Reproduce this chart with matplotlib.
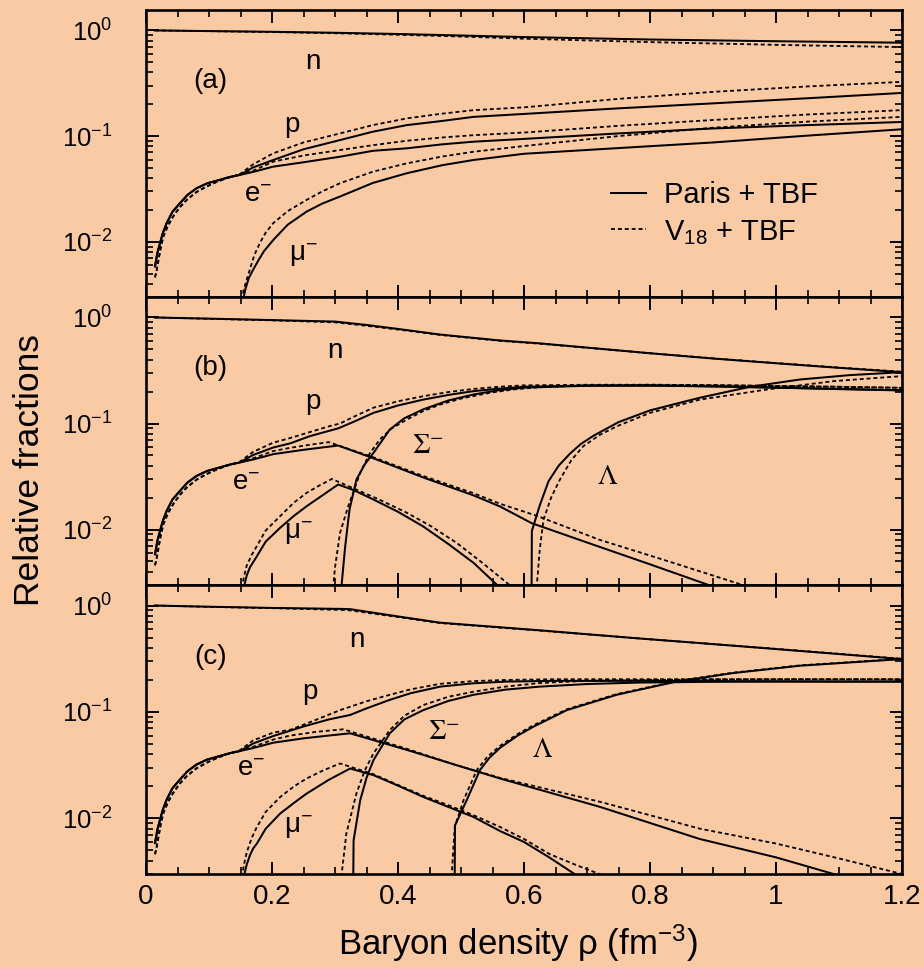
import matplotlib
matplotlib.use('Agg')
import matplotlib.pyplot as plt
from matplotlib.ticker import LogLocator, MultipleLocator, FixedLocator, FixedFormatter, NullFormatter

plt.rcParams['font.family'] = ['Liberation Sans', 'DejaVu Sans']
plt.rcParams['mathtext.fontset'] = 'custom'
plt.rcParams['mathtext.rm'] = 'Liberation Sans'
plt.rcParams['mathtext.it'] = 'Liberation Sans:italic'
plt.rcParams['mathtext.bf'] = 'Liberation Sans:bold'
plt.rcParams['mathtext.sf'] = 'Liberation Sans'

# ---------------- data ----------------
# common low-density part (p = e before muon onset)
low_x_paris = [0.0143, 0.018, 0.0222, 0.027, 0.0328, 0.042, 0.054, 0.066, 0.08, 0.097, 0.117, 0.133, 0.149]
low_y_paris = [0.00585, 0.0078, 0.0097, 0.0122, 0.015, 0.0192, 0.0232, 0.0278, 0.032, 0.0357, 0.0385, 0.041, 0.0429]
low_x_v18 = [0.0143, 0.017, 0.02, 0.0235, 0.0275, 0.035, 0.043, 0.053, 0.0646, 0.08, 0.096, 0.112, 0.128, 0.148]
low_y_v18 = [0.0046, 0.0054, 0.0068, 0.0089, 0.0112, 0.0143, 0.0173, 0.021, 0.0249, 0.0295, 0.0333, 0.0368, 0.040, 0.0432]

# ---- panel (a): n p e mu ----
a_n_x = [0.014, 0.1, 0.2, 0.3, 0.4, 0.5, 0.6, 0.8, 1.0, 1.2]
a_n_paris = [1.0, 0.985, 0.97, 0.95, 0.925, 0.895, 0.865, 0.82, 0.79, 0.765]
a_n_v18 = [1.0, 0.985, 0.965, 0.94, 0.91, 0.875, 0.835, 0.775, 0.73, 0.695]

a_hi_x = [0.17, 0.202, 0.25, 0.308, 0.36, 0.414, 0.47, 0.52, 0.6, 0.75, 0.9, 1.05, 1.2]
a_p_paris_hi = [0.0505, 0.0594, 0.075, 0.0917, 0.11, 0.127, 0.139, 0.152, 0.162, 0.183, 0.204, 0.228, 0.256]
a_e_paris_hi = [0.0458, 0.0514, 0.0565, 0.0638, 0.0725, 0.0766, 0.0835, 0.0885, 0.094, 0.106, 0.118, 0.127, 0.136]
a_p_v18_hi = [0.054, 0.0687, 0.087, 0.106, 0.127, 0.147, 0.163, 0.176, 0.187, 0.225, 0.262, 0.295, 0.326]
a_e_v18_hi = [0.047, 0.0573, 0.0655, 0.0738, 0.082, 0.0903, 0.097, 0.102, 0.108, 0.125, 0.142, 0.160, 0.176]

a_mu_paris_x = [0.154, 0.158, 0.163, 0.17, 0.178, 0.187, 0.202, 0.225, 0.255, 0.28, 0.308, 0.36, 0.414,
                0.47, 0.52, 0.6, 0.75, 0.9, 1.05, 1.2]
a_mu_paris_y = [0.0028, 0.0036, 0.0045, 0.00544, 0.0066, 0.0081, 0.0104, 0.0145, 0.0193, 0.023, 0.0268, 0.036,
                0.0445, 0.053, 0.0594, 0.068, 0.077, 0.087, 0.101, 0.116]
a_mu_v18_x = [0.152, 0.155, 0.16, 0.165, 0.172, 0.181, 0.19, 0.202, 0.225, 0.255, 0.28, 0.308, 0.36, 0.414,
              0.47, 0.52, 0.6, 0.75, 0.9, 1.05, 1.2]
a_mu_v18_y = [0.0028, 0.0035, 0.0044, 0.0055, 0.0075, 0.0098, 0.0122, 0.015, 0.0195, 0.0249, 0.030, 0.0358,
              0.046, 0.0552, 0.064, 0.0711, 0.0805, 0.100, 0.120, 0.137, 0.152]

# ---- panel (b): with hyperons ----
b_n_x = [0.014, 0.1, 0.2, 0.3, 0.35, 0.4, 0.467, 0.562, 0.625, 0.7, 0.8, 0.9, 1.0, 1.1, 1.2]
b_n_paris = [1.0, 0.975, 0.945, 0.915, 0.85, 0.78, 0.69, 0.607, 0.57, 0.52, 0.46, 0.41, 0.37, 0.335, 0.305]
b_n_v18 = [1.0, 0.972, 0.94, 0.9, 0.835, 0.77, 0.685, 0.602, 0.566, 0.518, 0.46, 0.412, 0.372, 0.337, 0.308]

b_p_paris_x = [0.17, 0.202, 0.229, 0.26, 0.305, 0.33, 0.361, 0.4, 0.44, 0.48, 0.52, 0.56, 0.6, 0.7, 0.8,
               0.9, 1.0, 1.1, 1.2]
b_p_paris_y = [0.0505, 0.0594, 0.065, 0.076, 0.09, 0.104, 0.126, 0.148, 0.168, 0.186, 0.202, 0.213, 0.222,
               0.228, 0.228, 0.224, 0.218, 0.212, 0.206]
b_p_v18_x = [0.17, 0.202, 0.229, 0.26, 0.29, 0.308, 0.33, 0.361, 0.4, 0.44, 0.48, 0.52, 0.56, 0.6, 0.7, 0.8,
             0.9, 1.0, 1.1, 1.2]
b_p_v18_y = [0.054, 0.066, 0.073, 0.083, 0.094, 0.1, 0.116, 0.141, 0.162, 0.181, 0.198, 0.212, 0.222, 0.229,
             0.232, 0.232, 0.23, 0.226, 0.222, 0.217]

b_e_paris_x = [0.17, 0.202, 0.25, 0.305, 0.361, 0.44, 0.52, 0.562, 0.612, 0.71, 0.8, 0.9]
b_e_paris_y = [0.0458, 0.0514, 0.0565, 0.062, 0.047, 0.031, 0.021, 0.0165, 0.0115, 0.0072, 0.0047, 0.0029]
b_e_v18_x = [0.17, 0.202, 0.229, 0.26, 0.29, 0.361, 0.44, 0.52, 0.562, 0.62, 0.72, 0.83, 0.955]
b_e_v18_y = [0.047, 0.055, 0.059, 0.063, 0.0667, 0.048, 0.032, 0.022, 0.0175, 0.0135, 0.008, 0.005, 0.0029]

b_mu_paris_x = [0.155, 0.16, 0.165, 0.176, 0.19, 0.213, 0.235, 0.255, 0.28, 0.305, 0.33, 0.361, 0.4, 0.44,
                0.48, 0.52, 0.56]
b_mu_paris_y = [0.0028, 0.0037, 0.0044, 0.0056, 0.0077, 0.0104, 0.0135, 0.0166, 0.021, 0.0266, 0.0235,
                0.0192, 0.0147, 0.0107, 0.0073, 0.00485, 0.0029]
b_mu_v18_x = [0.152, 0.156, 0.16, 0.168, 0.176, 0.19, 0.213, 0.235, 0.255, 0.275, 0.295, 0.334, 0.37, 0.414,
              0.453, 0.493, 0.535, 0.58]
b_mu_v18_y = [0.0028, 0.0037, 0.0046, 0.0058, 0.007, 0.0098, 0.0134, 0.018, 0.0222, 0.026, 0.030, 0.0238,
              0.0192, 0.0144, 0.0107, 0.0075, 0.0048, 0.0029]

b_sig_paris_x = [0.31, 0.316, 0.323, 0.334, 0.347, 0.361, 0.387, 0.41, 0.44, 0.48, 0.52, 0.56, 0.6, 0.7,
                 0.8, 0.9, 1.0, 1.1, 1.2]
b_sig_paris_y = [0.0028, 0.0068, 0.0154, 0.0296, 0.041, 0.0528, 0.0878, 0.112, 0.136, 0.165, 0.188, 0.206,
                 0.218, 0.227, 0.228, 0.224, 0.218, 0.211, 0.205]
b_sig_v18_x = [0.297, 0.300, 0.308, 0.321, 0.34, 0.355, 0.371, 0.39, 0.414, 0.44, 0.467, 0.5, 0.546, 0.585,
               0.625, 0.7, 0.8, 0.9, 1.0, 1.1, 1.2]
b_sig_v18_y = [0.0028, 0.0044, 0.0093, 0.0166, 0.0343, 0.052, 0.0706, 0.09, 0.109, 0.131, 0.151, 0.172,
               0.195, 0.21, 0.22, 0.229, 0.232, 0.23, 0.226, 0.222, 0.217]

b_lam_paris_x = [0.612, 0.6125, 0.625, 0.639, 0.655, 0.673, 0.69, 0.71, 0.75, 0.8, 0.879, 0.959, 1.038,
                 1.117, 1.2]
b_lam_paris_y = [0.0028, 0.0097, 0.0169, 0.0286, 0.04, 0.052, 0.064, 0.0765, 0.103, 0.133, 0.175, 0.222,
                 0.26, 0.286, 0.305]
b_lam_v18_x = [0.62, 0.625, 0.631, 0.643, 0.657, 0.675, 0.694, 0.72, 0.747, 0.8, 0.879, 0.985, 1.091, 1.2]
b_lam_v18_y = [0.0028, 0.0065, 0.0124, 0.02, 0.0296, 0.045, 0.061, 0.078, 0.094, 0.126, 0.168, 0.209,
               0.251, 0.28]

# ---- panel (c) ----
c_n_x = [0.014, 0.1, 0.2, 0.31, 0.324, 0.4, 0.467, 0.562, 0.625, 0.7, 0.784, 0.879, 1.0, 1.1, 1.2]
c_n_paris = [1.0, 0.975, 0.95, 0.93, 0.925, 0.79, 0.69, 0.625, 0.585, 0.538, 0.49, 0.444, 0.39, 0.35, 0.314]
c_n_v18 = [1.0, 0.972, 0.945, 0.91, 0.9, 0.78, 0.685, 0.62, 0.582, 0.536, 0.49, 0.444, 0.392, 0.352, 0.316]

c_p_paris_x = [0.17, 0.202, 0.25, 0.29, 0.324, 0.35, 0.387, 0.42, 0.467, 0.52, 0.573, 0.65, 0.8, 0.9, 1.0,
               1.1, 1.2]
c_p_paris_y = [0.0505, 0.0594, 0.073, 0.085, 0.0937, 0.108, 0.13, 0.15, 0.173, 0.186, 0.193, 0.196, 0.196,
               0.195, 0.194, 0.193, 0.193]
c_p_v18_x = [0.17, 0.202, 0.229, 0.26, 0.308, 0.35, 0.387, 0.42, 0.467, 0.52, 0.573, 0.65, 0.8, 0.9, 1.0,
             1.1, 1.2]
c_p_v18_y = [0.054, 0.064, 0.068, 0.08, 0.104, 0.126, 0.145, 0.163, 0.184, 0.195, 0.2, 0.203, 0.203, 0.203,
             0.203, 0.203, 0.203]

c_e_paris_x = [0.17, 0.202, 0.25, 0.29, 0.324, 0.414, 0.49, 0.562, 0.721, 0.879, 1.0, 1.1]
c_e_paris_y = [0.0458, 0.0514, 0.0565, 0.060, 0.063, 0.044, 0.032, 0.0237, 0.0128, 0.0064, 0.0043, 0.0029]
c_e_v18_x = [0.17, 0.202, 0.229, 0.27, 0.313, 0.414, 0.49, 0.562, 0.721, 0.879, 1.0, 1.1, 1.2]
c_e_v18_y = [0.047, 0.055, 0.06, 0.065, 0.0687, 0.045, 0.032, 0.024, 0.0143, 0.008, 0.0058, 0.0042, 0.0030]

c_mu_paris_x = [0.155, 0.16, 0.165, 0.17, 0.176, 0.19, 0.213, 0.235, 0.255, 0.29, 0.324, 0.361, 0.4, 0.44,
                0.48, 0.52, 0.562, 0.6, 0.64, 0.684]
c_mu_paris_y = [0.0028, 0.0037, 0.0045, 0.0052, 0.0058, 0.008, 0.0111, 0.014, 0.0171, 0.023, 0.0294,
                0.0255, 0.0203, 0.0159, 0.0128, 0.0103, 0.0076, 0.006, 0.0043, 0.0029]
c_mu_v18_x = [0.152, 0.156, 0.16, 0.168, 0.176, 0.19, 0.213, 0.235, 0.255, 0.28, 0.308, 0.361, 0.4, 0.44,
              0.48, 0.52, 0.562, 0.6, 0.641, 0.685, 0.726]
c_mu_v18_y = [0.0028, 0.0038, 0.0048, 0.0066, 0.0083, 0.0115, 0.0159, 0.020, 0.0237, 0.028, 0.0328, 0.026,
              0.0206, 0.0163, 0.0133, 0.0107, 0.0083, 0.0064, 0.0046, 0.0036, 0.0029]

c_sig_paris_x = [0.329, 0.3295, 0.34, 0.35, 0.361, 0.387, 0.41, 0.44, 0.48, 0.52, 0.57, 0.625, 0.7, 0.784,
                 0.9, 1.0, 1.1, 1.2]
c_sig_paris_y = [0.0028, 0.0062, 0.0148, 0.024, 0.0352, 0.063, 0.085, 0.104, 0.127, 0.145, 0.162, 0.173,
                 0.183, 0.189, 0.192, 0.193, 0.193, 0.193]
c_sig_v18_x = [0.31, 0.318, 0.334, 0.347, 0.361, 0.387, 0.41, 0.44, 0.48, 0.52, 0.57, 0.625, 0.7, 0.8, 0.9,
               1.0, 1.1, 1.2]
c_sig_v18_y = [0.0028, 0.0072, 0.0171, 0.028, 0.0408, 0.0676, 0.092, 0.116, 0.139, 0.155, 0.173, 0.187,
               0.196, 0.2, 0.202, 0.203, 0.203, 0.203]

c_lam_paris_x = [0.49, 0.4905, 0.509, 0.53, 0.545, 0.562, 0.59, 0.615, 0.668, 0.747, 0.842, 0.932, 1.038, 1.2]
c_lam_paris_y = [0.0028, 0.0086, 0.0148, 0.0284, 0.037, 0.046, 0.060, 0.0727, 0.104, 0.145, 0.193, 0.232,
                 0.272, 0.314]
c_lam_v18_x = [0.485, 0.49, 0.504, 0.525, 0.542, 0.562, 0.59, 0.615, 0.668, 0.747, 0.842, 0.932, 1.038, 1.2]
c_lam_v18_y = [0.0028, 0.0083, 0.0148, 0.0284, 0.038, 0.048, 0.062, 0.075, 0.106, 0.147, 0.195, 0.234,
               0.274, 0.316]

x_ticks = [0, 0.2, 0.4, 0.6, 0.8, 1.0, 1.2]
x_tick_labels = ['0', '0.2', '0.4', '0.6', '0.8', '1', '1.2']
legend_labels = ['Paris + TBF', r'V$_{18}$ + TBF']
panel_tags = ['(a)', '(b)', '(c)']

# ---------------- figure ----------------
BG = '#FACAA4'
fig = plt.figure(figsize=(9.24, 9.68), dpi=100)
fig.patch.set_facecolor(BG)

W, H = 924, 968
left, right = 146 / W, 902 / W
tops = [10, 297, 585]
bots = [297, 585, 874]

LW = 1.45
SOLID = dict(color='black', lw=LW, solid_joinstyle='round')
DASH = dict(color='black', lw=LW * 0.9, dashes=(2.2, 1.6))

series = [
    [  # panel a
        (a_n_x, a_n_paris, a_n_x, a_n_v18),
        (low_x_paris + a_hi_x, low_y_paris + a_p_paris_hi, low_x_v18 + a_hi_x, low_y_v18 + a_p_v18_hi),
        (low_x_paris + a_hi_x, low_y_paris + a_e_paris_hi, low_x_v18 + a_hi_x, low_y_v18 + a_e_v18_hi),
        (a_mu_paris_x, a_mu_paris_y, a_mu_v18_x, a_mu_v18_y),
    ],
    [  # panel b
        (b_n_x, b_n_paris, b_n_x, b_n_v18),
        (low_x_paris + b_p_paris_x, low_y_paris + b_p_paris_y, low_x_v18 + b_p_v18_x, low_y_v18 + b_p_v18_y),
        (low_x_paris + b_e_paris_x, low_y_paris + b_e_paris_y, low_x_v18 + b_e_v18_x, low_y_v18 + b_e_v18_y),
        (b_mu_paris_x, b_mu_paris_y, b_mu_v18_x, b_mu_v18_y),
        (b_sig_paris_x, b_sig_paris_y, b_sig_v18_x, b_sig_v18_y),
        (b_lam_paris_x, b_lam_paris_y, b_lam_v18_x, b_lam_v18_y),
    ],
    [  # panel c
        (c_n_x, c_n_paris, c_n_x, c_n_v18),
        (low_x_paris + c_p_paris_x, low_y_paris + c_p_paris_y, low_x_v18 + c_p_v18_x, low_y_v18 + c_p_v18_y),
        (low_x_paris + c_e_paris_x, low_y_paris + c_e_paris_y, low_x_v18 + c_e_v18_x, low_y_v18 + c_e_v18_y),
        (c_mu_paris_x, c_mu_paris_y, c_mu_v18_x, c_mu_v18_y),
        (c_sig_paris_x, c_sig_paris_y, c_sig_v18_x, c_sig_v18_y),
        (c_lam_paris_x, c_lam_paris_y, c_lam_v18_x, c_lam_v18_y),
    ],
]

# label positions (data coords) per panel
sans_labels = [
    [('n', 0.265, 0.50), ('p', 0.232, 0.127), (r'e$^{-}$', 0.178, 0.0275), (r'μ$^{-}$', 0.25, 0.0074)],
    [('n', 0.30, 0.478), ('p', 0.265, 0.158), (r'e$^{-}$', 0.159, 0.0272), (r'μ$^{-}$', 0.242, 0.0092)],
    [('n', 0.335, 0.478), ('p', 0.260, 0.155), (r'e$^{-}$', 0.167, 0.029), (r'μ$^{-}$', 0.242, 0.0082)],
]
serif_labels = [
    [],
    [(r'$\Sigma^{-}$', 0.448, 0.062), (r'$\Lambda$', 0.732, 0.031)],
    [(r'$\Sigma^{-}$', 0.473, 0.065), (r'$\Lambda$', 0.629, 0.0438)],
]
tag_pos = [(0.102, 0.33), (0.102, 0.337), (0.102, 0.33)]

axes = []
leg_handles = None
for i, (t, b) in enumerate(zip(tops, bots)):
    ax = fig.add_axes([left, 1 - b / H, right - left, (b - t) / H])
    ax.set_facecolor(BG)
    ax.set_yscale('log')
    ax.set_xlim(0, 1.2)
    ax.set_ylim(3.0e-3, 1.56)
    for (xs, ys, xd, yd) in series[i]:
        l1, = ax.plot(xs, ys, **SOLID)
        l2, = ax.plot(xd, yd, **DASH)
        if leg_handles is None:
            leg_handles = [l1, l2]
    for s in ax.spines.values():
        s.set_linewidth(1.9)
    ax.xaxis.set_major_locator(FixedLocator(x_ticks))
    ax.xaxis.set_major_formatter(FixedFormatter(x_tick_labels))
    ax.xaxis.set_minor_locator(MultipleLocator(0.05))
    ax.yaxis.set_major_locator(LogLocator(base=10, numticks=10))
    ax.yaxis.set_minor_locator(LogLocator(base=10, subs=[2, 3, 4, 5, 6, 7, 8, 9], numticks=20))
    ax.yaxis.set_minor_formatter(NullFormatter())
    ax.tick_params(which='both', direction='in', top=True, right=True)
    ax.tick_params(which='major', length=9, width=1.4)
    ax.tick_params(which='minor', length=4.8, width=1.2)
    ax.tick_params(axis='x', which='major', pad=7, labelsize=20)
    ax.tick_params(axis='y', which='major', pad=24, labelsize=18.5)
    if i < 2:
        ax.tick_params(labelbottom=False)
    for txt, x, y in sans_labels[i]:
        ax.text(x, y, txt, fontsize=20, ha='center', va='center')
    for txt, x, y in serif_labels[i]:
        ax.text(x, y, txt, fontsize=20, ha='center', va='center', math_fontfamily='stix')
    ax.text(tag_pos[i][0], tag_pos[i][1], panel_tags[i], fontsize=20, ha='center', va='center')
    axes.append(ax)

axes[0].legend(leg_handles, legend_labels, loc='upper left', bbox_to_anchor=(0.60, 0.445),
               frameon=False, fontsize=21, handlelength=1.2, handletextpad=0.62,
               labelspacing=0.3, borderaxespad=0)

fig.text(518 / W, 1 - 943 / H, r'Baryon density ρ (fm$^{-3}$)', fontsize=25,
         ha='center', va='center')
fig.text(30 / W, 1 - 470 / H, 'Relative fractions', fontsize=25.5, rotation=90,
         ha='center', va='center')

fig.savefig('out.png', dpi=100, facecolor=BG)
